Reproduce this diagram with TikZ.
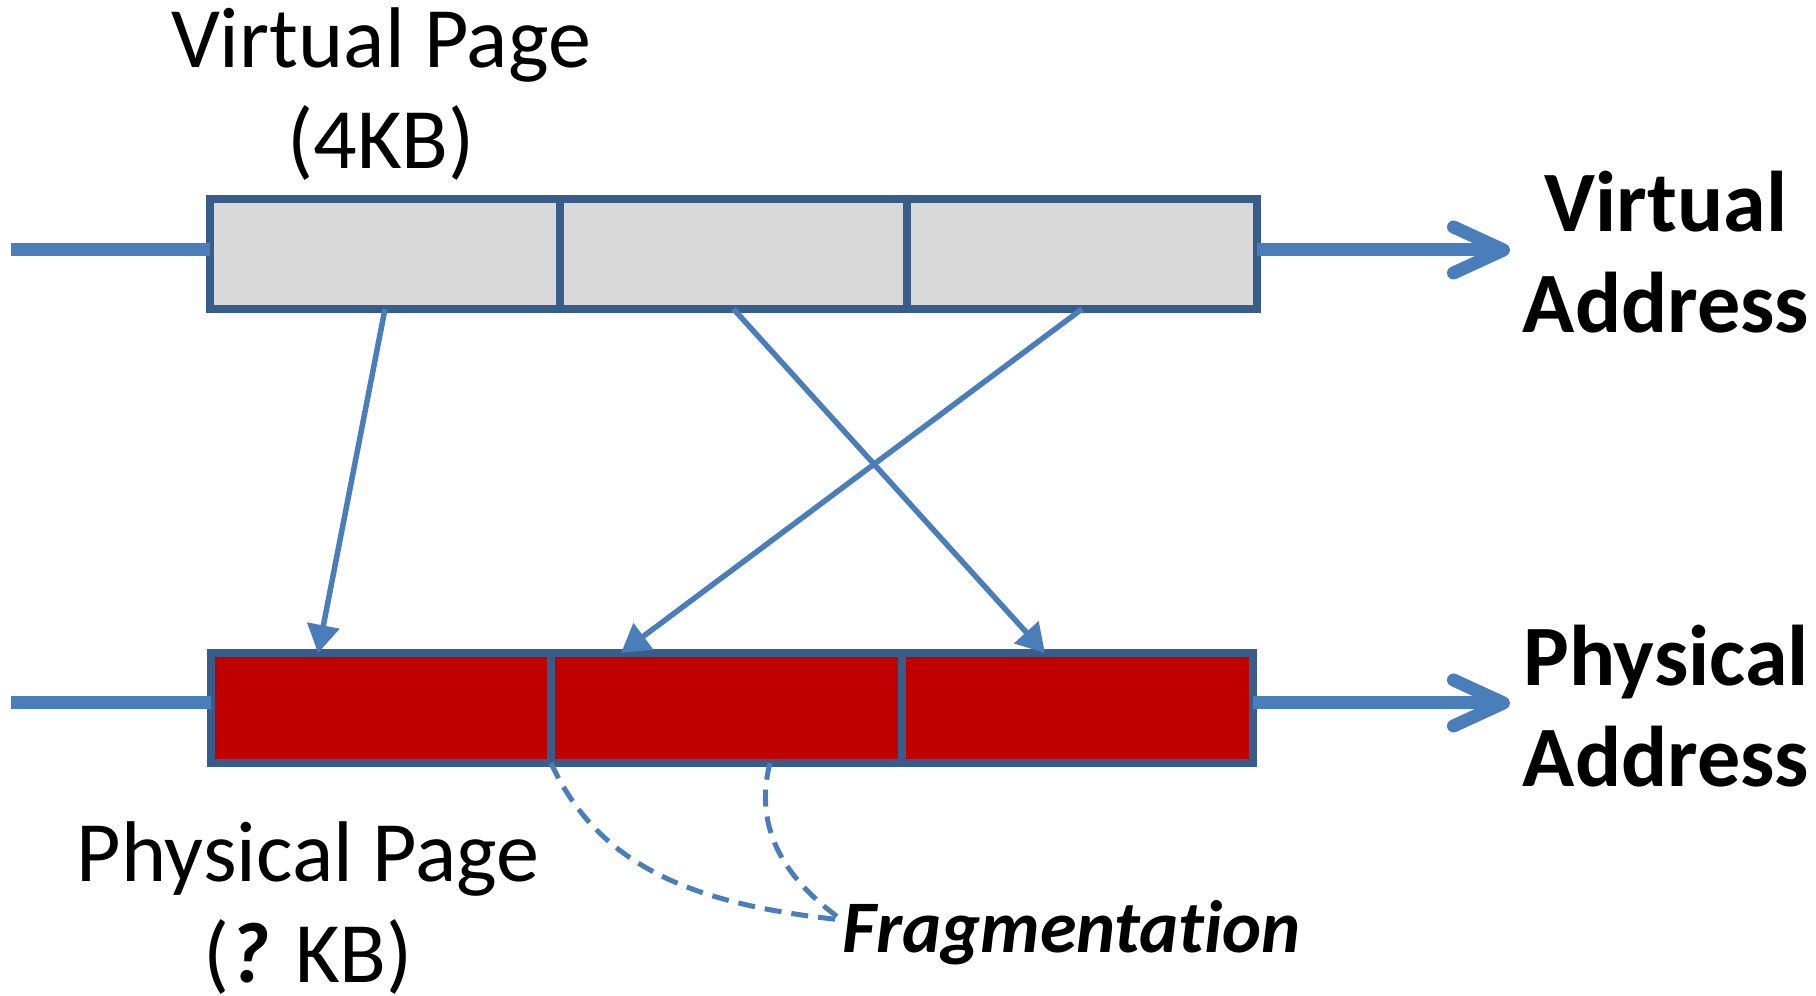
\documentclass[tikz,border=0pt]{standalone}
\usepackage{fontspec}
\setmainfont{Carlito}[Ligatures=NoCommon]
\usepackage{tikz}
\usetikzlibrary{arrows.meta,calc,positioning}
\definecolor{lineblue}{HTML}{4A7EBB}
\definecolor{boxblue}{HTML}{385D8A}
\definecolor{pagegrey}{HTML}{D9D9D9}
\definecolor{pagered}{HTML}{C00000}
\tikzset{
  vpage/.style={draw=boxblue,fill=pagegrey,line width=0.8mm,minimum height=11mm,inner sep=0pt,outer sep=0pt},
  ppage/.style={vpage,fill=pagered},
  axis/.style={lineblue,line width=1.3mm},
  axisarrow/.style={axis,-{Straight Barb[length=5mm,width=4.6mm,round]}},
  map/.style={lineblue,line width=0.55mm,-{Triangle[length=2.8mm,width=3.2mm]}},
  frag/.style={lineblue,line width=0.5mm,dash pattern=on 1.7mm off 1mm},
  lbl/.style={font=\fontsize{24.5}{29}\selectfont,align=center,inner sep=0pt},
  blbl/.style={lbl,font=\fontsize{24.5}{29}\selectfont\bfseries},
}

\begin{document}
\begin{tikzpicture}[x=0.1mm,y=-0.1mm]
  \useasboundingbox (0,0) rectangle (1816,996);
  % virtual pages
  \node[vpage,minimum width=35mm] (v1) at (385,254) {};
  \node[vpage,minimum width=34.7mm,right=0pt of v1] (v2) {};
  \node[vpage,minimum width=35mm,right=0pt of v2] (v3) {};
  % physical pages
  \node[ppage,minimum width=34mm] (p1) at (381,708) {};
  \node[ppage,minimum width=35.1mm,right=0pt of p1] (p2) {};
  \node[ppage,minimum width=35.1mm,right=0pt of p2] (p3) {};
  % address lines
  \coordinate (vstart) at (11,250);
  \coordinate (vend) at (1510,250);
  \coordinate (pstart) at (11,703);
  \coordinate (pend) at (1510,703);
  \draw[axis] (vstart) -- (vstart -| v1.west);
  \draw[axisarrow] (vstart -| v3.east) -- (vend);
  \draw[axis] (pstart) -- (pstart -| p1.west);
  \draw[axisarrow] (pstart -| p3.east) -- (pend);
  % page mappings
  \draw[map] (v1.south) -- ($(p1.north west)+(107,0)$);
  \draw[map] (v2.south) -- ($(p3.north west)+(143,0)$);
  \draw[map] (v3.south) -- ($(p2.north west)+(70,0)$);
  % labels (base = last line)
  \node[lbl,anchor=base] (vpagelbl) at (381,169) {Virtual Page\\(4KB)};
  \node[lbl,anchor=base] (ppagelbl) at (308,983) {Physical Page\\({\bfseries\itshape ?} KB)};
  \node[blbl,anchor=base] (vaddr) at (1666,333) {Virtual\\Address};
  \node[blbl,anchor=base] (paddr) at (1666,787) {Physical\\Address};
  \node[lbl,font=\fontsize{21.1}{25}\selectfont\bfseries\itshape,anchor=base west] (fraglbl) at (842,953) {Fragmentation};
  % fragmentation
  \coordinate (fragend) at ($(fraglbl.base west)+(0,-33)$);
  \draw[frag] (p1.south east) .. controls +(49,107) and +(-142,-15) .. (fragend);
  \draw[frag] ($(p2.south west)+(219,0)$) .. controls +(-20,77) and +(-42,-30) .. (fragend);
\end{tikzpicture}
\end{document}
